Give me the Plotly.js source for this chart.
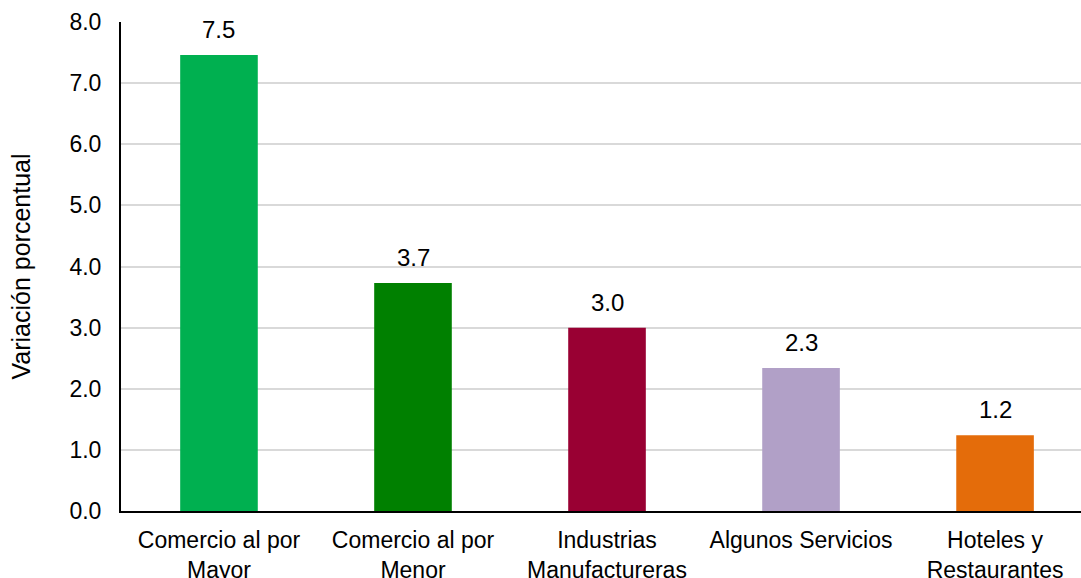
<!DOCTYPE html>
<html>
<head>
<meta charset="utf-8">
<script src="https://cdn.plot.ly/plotly-3.0.1.min.js"></script>
<style>html,body{margin:0;padding:0;background:#fff;}#chart{width:1081px;height:578px;}</style>
</head>
<body>
<div id="chart"></div>
<script>
const categories = ["Comercio al por<br>Mayor", "Comercio al por<br>Menor", "Industrias<br>Manufactureras", "Algunos Servicios", "Hoteles y<br>Restaurantes"];
const values = [7.46, 3.73, 3.0, 2.34, 1.24];
const labels = ["7.5", "3.7", "3.0", "2.3", "1.2"];
const colors = ["#00B050", "#008000", "#990033", "#B1A0C7", "#E46C0A"];
const yTicks = [0, 1, 2, 3, 4, 5, 6, 7, 8];

const font = "Liberation Sans, Arial, sans-serif";
Plotly.newPlot("chart", [{
  type: "bar",
  x: categories,
  y: values,
  marker: {color: colors},
  width: 0.4,
  hoverinfo: "none"
}], {
  width: 1081, height: 578,
  margin: {l: 121, r: 0, t: 22, b: 67, pad: 0},
  paper_bgcolor: "#fff", plot_bgcolor: "#fff",
  showlegend: false,
  font: {family: font, color: "#000"},
  annotations: categories.map((c, i) => ({
    x: c, y: values[i], xref: "x", yref: "y",
    text: labels[i], showarrow: false,
    yanchor: "bottom", yshift: 10,
    font: {family: font, size: 24, color: "#000"}
  })),
  xaxis: {
    range: [-0.505, 4.443],
    showline: true, linecolor: "#000", linewidth: 2,
    tickfont: {size: 23, color: "#000"},
    ticks: "", showgrid: false, fixedrange: true, tickangle: 0,
    ticklabelstandoff: 7
  },
  yaxis: {
    range: [0, 8],
    tickvals: yTicks,
    ticktext: yTicks.map(v => v.toFixed(1)),
    showline: true, linecolor: "#000", linewidth: 2,
    showgrid: true, gridcolor: "#d9d9d9", gridwidth: 2,
    zeroline: false,
    tickfont: {size: 23, color: "#000"},
    ticks: "", ticklabelstandoff: 13,
    title: {text: "Variación porcentual", font: {size: 25, color: "#000"}, standoff: 32}
  }
}, {staticPlot: true});
</script>
</body>
</html>
